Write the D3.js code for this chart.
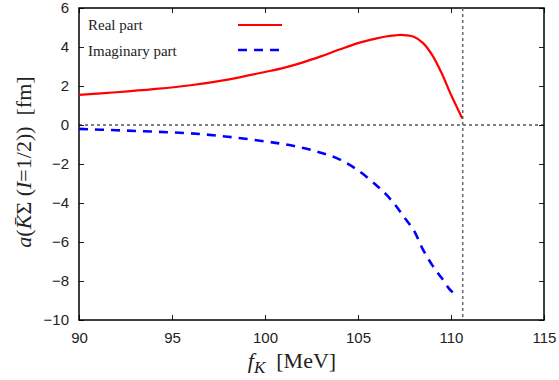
<!DOCTYPE html>
<html>
<head>
<meta charset="utf-8">
<script src="https://cdn.jsdelivr.net/npm/d3@7"></script>
<style>
  body { margin: 0; background: #fff; }
  .tick text { font-family: "Liberation Sans", Arial, sans-serif; font-size: 15px; fill: #222; }
</style>
</head>
<body>
<svg id="canvas" width="559" height="380"></svg>
<script>
// f_K [MeV] and scattering length parts
let realFk = [90, 92, 94, 96, 98, 100, 101, 102, 103, 104, 105, 106, 106.5, 107, 107.3, 107.6, 108, 108.5, 109, 109.5, 110, 110.3, 110.6];
let realVals = [1.54, 1.68, 1.84, 2.04, 2.33, 2.72, 2.93, 3.2, 3.52, 3.87, 4.2, 4.44, 4.54, 4.6, 4.62, 4.6, 4.52, 4.2, 3.57, 2.65, 1.55, 0.95, 0.35];

let imagFk = [90, 92, 94, 96, 98, 100, 101, 102, 103, 104, 105, 106, 106.5, 107, 107.5, 108, 108.5, 109, 109.5, 110, 110.4];
let imagVals = [-0.2, -0.27, -0.34, -0.43, -0.6, -0.84, -0.98, -1.17, -1.42, -1.76, -2.32, -3.1, -3.55, -4.1, -4.75, -5.4, -6.4, -7.2, -7.85, -8.5, -8.75];

let xTicks = [90, 95, 100, 105, 110, 115];
let yTicks = [-10, -8, -6, -4, -2, 0, 2, 4, 6];
let threshold = 110.63;

let canvas = d3.select('#canvas');
let plotLeft = 79, plotRight = 544, plotTop = 8, plotBottom = 320;

let xScale = d3.scaleLinear().domain([90, 115]).range([plotLeft, plotRight]);
let yScale = d3.scaleLinear().domain([-10, 6]).range([plotBottom, plotTop]);

// axes with inward ticks, mirrored on top/right
let xAxis = d3.axisBottom(xScale).tickValues(xTicks).tickSizeInner(-5).tickSizeOuter(0).tickPadding(12);
let yAxis = d3.axisLeft(yScale).tickValues(yTicks).tickSizeInner(-5).tickSizeOuter(0).tickPadding(10);

canvas.append('g').attr('transform', 'translate(0,' + plotBottom + ')').call(xAxis);
canvas.append('g').attr('transform', 'translate(' + plotLeft + ',0)').call(yAxis);
canvas.append('g').attr('transform', 'translate(0,' + plotTop + ')')
    .call(d3.axisTop(xScale).tickValues(xTicks).tickSizeInner(-5).tickSizeOuter(0).tickFormat(''));
canvas.append('g').attr('transform', 'translate(' + plotRight + ',0)')
    .call(d3.axisRight(yScale).tickValues(yTicks).tickSizeInner(-5).tickSizeOuter(0).tickFormat(''));
canvas.selectAll('.domain').remove();
canvas.selectAll('.tick line').attr('stroke', '#222');

canvas.append('rect')
    .attr('x', plotLeft).attr('y', plotTop)
    .attr('width', plotRight - plotLeft).attr('height', plotBottom - plotTop)
    .attr('fill', 'none').attr('stroke', '#000').attr('stroke-width', 1.5);

// zero line and threshold line
canvas.append('line')
    .attr('x1', plotLeft).attr('x2', plotRight)
    .attr('y1', yScale(0)).attr('y2', yScale(0))
    .attr('stroke', '#000').attr('stroke-width', 1).attr('stroke-dasharray', '3,3');
canvas.append('line')
    .attr('x1', xScale(threshold)).attr('x2', xScale(threshold))
    .attr('y1', plotTop).attr('y2', plotBottom)
    .attr('stroke', '#666').attr('stroke-width', 1.5).attr('stroke-dasharray', '3,3');

let line = d3.line()
    .x((d) => xScale(d[0]))
    .y((d) => yScale(d[1]))
    .curve(d3.curveCatmullRom.alpha(0.5));

canvas.append('path')
    .datum(realFk.map((f, i) => [f, realVals[i]]))
    .attr('d', line)
    .attr('fill', 'none').attr('stroke', '#ff0000').attr('stroke-width', 2.2);

canvas.append('path')
    .datum(imagFk.map((f, i) => [f, imagVals[i]]))
    .attr('d', line)
    .attr('fill', 'none').attr('stroke', '#0000ff').attr('stroke-width', 2.6)
    .attr('stroke-dasharray', '9,7');

// legend
let serif = '"Liberation Serif", "Times New Roman", serif';
canvas.append('text').attr('x', 88).attr('y', 30).attr('font-family', serif).attr('font-size', 15).attr('fill', '#222').text('Real part');
canvas.append('text').attr('x', 88).attr('y', 56).attr('font-family', serif).attr('font-size', 15).attr('fill', '#222').text('Imaginary part');
canvas.append('line').attr('x1', 238).attr('x2', 282).attr('y1', 25).attr('y2', 25)
    .attr('stroke', '#ff0000').attr('stroke-width', 2.2);
canvas.append('line').attr('x1', 238).attr('x2', 282).attr('y1', 50).attr('y2', 50)
    .attr('stroke', '#0000ff').attr('stroke-width', 2.6).attr('stroke-dasharray', '9,7');

// x label
let xl = canvas.append('text').attr('x', 292).attr('y', 368)
    .attr('text-anchor', 'middle').attr('font-family', serif).attr('font-size', 22).attr('fill', '#222');
xl.append('tspan').attr('font-style', 'italic').text('f');
xl.append('tspan').attr('font-style', 'italic').attr('font-size', 17).attr('dy', 5).text('K');
xl.append('tspan').attr('dy', -5).text('\u00a0 [MeV]');

// y label
let yl = canvas.append('text')
    .attr('transform', 'translate(31,162) rotate(-90)')
    .attr('text-anchor', 'middle').attr('font-family', serif).attr('font-size', 22).attr('fill', '#222');
yl.append('tspan').attr('font-style', 'italic').text('a');
yl.append('tspan').text('(');
yl.append('tspan').attr('font-style', 'italic').text('K\u0304');
yl.append('tspan').text('\u03a3 (');
yl.append('tspan').attr('font-style', 'italic').text('I');
yl.append('tspan').text('=1/2))\u00a0 [fm]');
</script>
</body>
</html>
